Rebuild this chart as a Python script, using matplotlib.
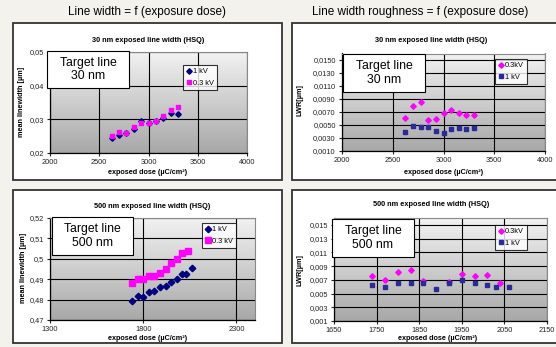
import matplotlib
matplotlib.use("Agg")
import matplotlib.pyplot as plt
import numpy as np
from matplotlib.patches import Rectangle
from matplotlib.colors import LinearSegmentedColormap
from matplotlib.ticker import FuncFormatter
from matplotlib.lines import Line2D

plt.rcParams["font.family"] = ["Liberation Sans", "DejaVu Sans"]

# ---- data ----
dose_30 = [2625, 2700, 2775, 2850, 2925, 3000, 3075, 3150, 3225, 3300]
lw30_1kv = [0.0246, 0.0253, 0.0260, 0.0271, 0.0295, 0.0289, 0.0295, 0.0305, 0.0319, 0.0317]
lw30_03kv = [0.0250, 0.0261, 0.0259, 0.0277, 0.0290, 0.0288, 0.0295, 0.0309, 0.0329, 0.0336]
lwr30_03kv = [0.0061, 0.0080, 0.0086, 0.0057, 0.0060, 0.0069, 0.0073, 0.0068, 0.0065, 0.0065]
lwr30_1kv = [0.0040, 0.0049, 0.0047, 0.0047, 0.0041, 0.0038, 0.0044, 0.0046, 0.0044, 0.0045]

dose_500_1kv = [1740, 1770, 1800, 1830, 1860, 1890, 1920, 1950, 1980, 2010, 2030, 2060]
lw500_1kv = [0.4793, 0.4819, 0.4812, 0.4835, 0.4840, 0.4860, 0.4866, 0.4884, 0.4899, 0.4925, 0.4925, 0.4954]
dose_500_03kv = [1740, 1770, 1800, 1830, 1860, 1890, 1920, 1950, 1980, 2010, 2040]
lw500_03kv = [0.4882, 0.4902, 0.4899, 0.4917, 0.4915, 0.4931, 0.4948, 0.4979, 0.5000, 0.5029, 0.5039]
lwr500_1kv = [0.0063, 0.0060, 0.0065, 0.0065, 0.0065, 0.0057, 0.0066, 0.0070, 0.0065, 0.0063, 0.0059, 0.0060]
dose_500_lwr03 = [1740, 1770, 1800, 1830, 1860, 1920, 1950, 1980, 2010, 2040]
lwr500_03kv = [0.0075, 0.0070, 0.0081, 0.0085, 0.0068, 0.0067, 0.0079, 0.0076, 0.0077, 0.0065]

NAVY = "#000080"
MAGENTA = "#ff00ff"
W, H = 556, 347

fig = plt.figure(figsize=(W / 100, H / 100), dpi=100)
fig.patch.set_facecolor("#f4f2ec")

grad = LinearSegmentedColormap.from_list("g", ["#a8a8a8", "#f2f2f2"])


def rect(l, t, r, b):
    return [l / W, 1 - b / H, (r - l) / W, (b - t) / H]


def comma(fmt):
    return FuncFormatter(lambda v, p: (fmt % v).replace(".", ","))


def panel_box(l, t, r, b):
    fig.patches.append(Rectangle((l / W, 1 - b / H), (r - l) / W, (b - t) / H,
                                 transform=fig.transFigure, facecolor="white",
                                 edgecolor="#333333", lw=1.3, zorder=-1))


def text_box(l, t, r, b, s):
    fig.patches.append(Rectangle((l / W, 1 - b / H), (r - l) / W, (b - t) / H,
                                 transform=fig.transFigure, facecolor="white",
                                 edgecolor="black", lw=0.8, zorder=5))
    fig.text((l + r) / 2 / W, 1 - (t + b) / 2 / H, s, ha="center", va="center",
             fontsize=8.8, linespacing=1.15, zorder=6)


def make_axes(r, xlim, xticks, ylim, yticks, yfmt):
    ax = fig.add_axes(rect(*r))
    ax.imshow(np.linspace(0, 1, 256).reshape(-1, 1), cmap=grad, origin="lower",
              extent=[0, 1, 0, 1], transform=ax.transAxes, aspect="auto", zorder=0)
    ax.set_xlim(*xlim)
    ax.set_ylim(*ylim)
    ax.set_xticks(xticks)
    ax.set_yticks(yticks)
    ax.yaxis.set_major_formatter(comma(yfmt))
    ax.grid(True, color="black", lw=0.8, zorder=1)
    ax.tick_params(labelsize=5.3, length=2.5, width=0.8, pad=2, colors="#222222")
    for s in ["top", "right"]:
        ax.spines[s].set_color("#888888")
        ax.spines[s].set_linewidth(0.8)
    for s in ["left", "bottom"]:
        ax.spines[s].set_color("black")
        ax.spines[s].set_linewidth(0.9)
    return ax


def legend(ax, entries, l, t):
    handles = [Line2D([], [], ls="none", marker=m, color=c, markersize=ms) for m, c, ms, _ in entries]
    labels = [e[3] for e in entries]
    lg = ax.legend(handles, labels, loc="upper left", bbox_to_anchor=(l / W, 1 - t / H),
                   bbox_transform=fig.transFigure, fontsize=5.3, frameon=True, fancybox=False,
                   edgecolor="black", handlelength=0.6, handletextpad=0.3, borderpad=0.45,
                   labelspacing=0.55, borderaxespad=0)
    lg.get_frame().set_linewidth(0.8)
    lg.set_zorder(7)


# headers
fig.text(147 / W, 1 - 12 / H, "Line width = f (exposure dose)", ha="center", va="center", fontsize=8.5)
fig.text(420 / W, 1 - 12 / H, "Line width roughness = f (exposure dose)", ha="center", va="center", fontsize=8.5)

panel_box(13, 23, 282, 180)
panel_box(292, 23, 562, 180)
panel_box(13, 190, 282, 343)
panel_box(292, 190, 562, 343)

# --- top left ---
ax = make_axes((50, 52, 247, 153), (2000, 4000), [2000, 2500, 3000, 3500, 4000],
               (0.02, 0.05), [0.02, 0.03, 0.04, 0.05], "%.2f")
ax.plot(dose_30, lw30_1kv, ls="none", marker="D", color=NAVY, ms=2.8, zorder=3)
ax.plot(dose_30, lw30_03kv, ls="none", marker="s", color=MAGENTA, ms=3.4, zorder=3)
legend(ax, [("D", NAVY, 2.8, "1 kV"), ("s", MAGENTA, 3.4, "0.3 kV")], 183, 65)
fig.text(148 / W, 1 - 40 / H, "30 nm exposed line width (HSQ)", ha="center", va="center",
         fontsize=5.3, fontweight="bold")
fig.text(148 / W, 1 - 172 / H, "exposed dose (µC/cm²)", ha="center", va="center",
         fontsize=5.2, fontweight="bold")
fig.text(22 / W, 1 - 102 / H, "mean linewidth [µm]", ha="center", va="center",
         fontsize=5.2, fontweight="bold", rotation=90)
text_box(47, 51, 129, 88, "Target line\n30 nm")

# --- top right ---
ax = make_axes((342, 53.5, 545, 151), (2000, 4000), [2000, 2500, 3000, 3500, 4000],
               (0.001, 0.016), np.arange(0.001, 0.0151, 0.002), "%.4f")
ax.plot(dose_30, lwr30_03kv, ls="none", marker="D", color=MAGENTA, ms=2.8, zorder=3)
ax.plot(dose_30, lwr30_1kv, ls="none", marker="s", color="#2a2a9a", ms=3.4, zorder=3)
legend(ax, [("D", MAGENTA, 2.8, "0.3kV"), ("s", "#2a2a9a", 3.4, "1 kV")], 495, 59)
fig.text(431 / W, 1 - 40 / H, "30 nm exposed line width (HSQ)", ha="center", va="center",
         fontsize=5.3, fontweight="bold")
fig.text(444 / W, 1 - 172 / H, "exposed dose (µC/cm²)", ha="center", va="center",
         fontsize=5.2, fontweight="bold")
fig.text(300 / W, 1 - 100 / H, "LWR[µm]", ha="center", va="center",
         fontsize=5.2, fontweight="bold", rotation=90)
text_box(343, 54, 425, 92, "Target line\n30 nm")

# --- bottom left ---
ax = make_axes((50, 218, 255, 320), (1300, 2400), [1300, 1800, 2300],
               (0.47, 0.52), [0.47, 0.48, 0.49, 0.50, 0.51, 0.52], "%.2f")
ax.yaxis.set_major_formatter(FuncFormatter(lambda v, p: ("%g" % round(v, 2)).replace(".", ",")))
ax.plot(dose_500_1kv, lw500_1kv, ls="none", marker="D", color=NAVY, ms=3.3, zorder=3)
ax.plot(dose_500_03kv, lw500_03kv, ls="none", marker="s", color=MAGENTA, ms=3.7, zorder=3)
legend(ax, [("D", NAVY, 3.3, "1 kV"), ("s", MAGENTA, 3.7, "0.3 kV")], 202, 223)
fig.text(152 / W, 1 - 207 / H, "500 nm exposed line width (HSQ)", ha="center", va="center",
         fontsize=5.3, fontweight="bold")
fig.text(148 / W, 1 - 338 / H, "exposed dose (µC/cm²)", ha="center", va="center",
         fontsize=5.2, fontweight="bold")
fig.text(24 / W, 1 - 268 / H, "mean linewidth [µm]", ha="center", va="center",
         fontsize=5.2, fontweight="bold", rotation=90)
text_box(52, 217, 133, 255, "Target line\n500 nm")

# --- bottom right ---
ax = make_axes((334, 218, 547, 321), (1650, 2150), np.arange(1650, 2151, 100),
               (0.001, 0.016), np.arange(0.001, 0.0151, 0.002), "%.3f")
ax.plot(dose_500_lwr03, lwr500_03kv, ls="none", marker="D", color=MAGENTA, ms=2.8, zorder=3)
ax.plot(dose_500_1kv, lwr500_1kv, ls="none", marker="s", color="#2a2a9a", ms=3.4, zorder=3)
legend(ax, [("D", MAGENTA, 2.8, "0.3kV"), ("s", "#2a2a9a", 3.4, "1 kV")], 495, 225)
fig.text(431 / W, 1 - 205 / H, "500 nm exposed line width (HSQ)", ha="center", va="center",
         fontsize=5.3, fontweight="bold")
fig.text(438 / W, 1 - 339 / H, "exposed dose (µC/cm²)", ha="center", va="center",
         fontsize=5.2, fontweight="bold")
fig.text(300 / W, 1 - 270 / H, "LWR[µm]", ha="center", va="center",
         fontsize=5.2, fontweight="bold", rotation=90)
text_box(332, 219, 414, 257, "Target line\n500 nm")

fig.savefig("out.png", dpi=100, facecolor=fig.get_facecolor())
